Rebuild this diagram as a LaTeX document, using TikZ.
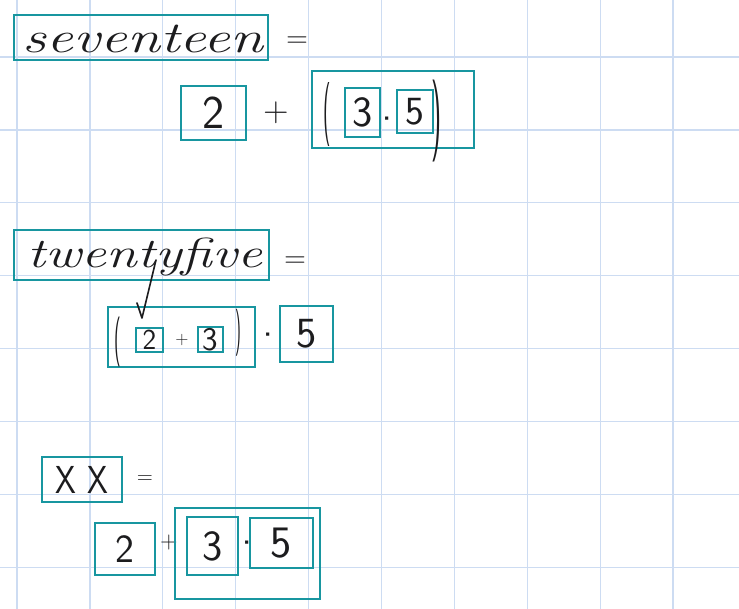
\documentclass[tikz,border=0pt]{standalone}
\usepackage{graphicx}
\definecolor{boxteal}{RGB}{24,150,160}
\definecolor{gridblue}{RGB}{205,220,242}
\definecolor{ink}{RGB}{28,28,30}
\newcommand\hwtext[2]{{\fontsize{#1}{#1}\selectfont\sffamily #2}}
\newcommand\hwword[3]{\resizebox{#1}{\height}{\fontsize{#2}{#2}\selectfont\itshape #3}}
\newcommand\hwparen[3]{\resizebox*{\width}{#1}{\fontsize{#2}{#2}\selectfont\sffamily #3}}
\begin{document}
\begin{tikzpicture}[x=1pt,y=-1pt,
  box/.style={draw=boxteal,line width=2.3pt,inner sep=0pt,text=ink},
  lbl/.style={inner sep=0pt,text=ink},
  gridline/.style={draw=gridblue,line width=1.3pt},
  pen/.style={draw=ink,line width=1.6pt,line cap=round,line join=round}]
\fill[white] (0,0) rectangle (739,609);
\useasboundingbox (0,0) rectangle (739,609);
% grid
\foreach \i in {0,...,9} \draw[gridline] ({17+72.9*\i},0) -- ({17+72.9*\i},609);
\foreach \j in {0,...,7} \draw[gridline] (0,{57+72.9*\j}) -- (739,{57+72.9*\j});

% ---- row 1
\node[box,minimum width=254pt,minimum height=45pt] (seventeen) at (141,37.5) {};
\node[lbl,anchor=base] (seventeentxt) at (143,53) {\hwword{240pt}{44pt}{seventeen}};
\node[lbl] (eq1) at (297,42) {\hwtext{30pt}{=}};
\node[box,minimum width=65pt,minimum height=54pt] (two1) at (213.5,113) {\hwtext{47pt}{2}};
\node[lbl] (plus1) at (276,113) {\hwtext{35pt}{+}};
\node[box,minimum width=162pt,minimum height=77pt] (grp1) at (393,109.5) {};
\node[lbl] (lp1) at (327,115) {\hwparen{64pt}{20pt}{(}};
\node[box,minimum width=35pt,minimum height=49pt] (three1) at (362.5,112.5) {\hwtext{43pt}{3}};
\node[lbl] (dot1) at (387,125) {\hwtext{40pt}{·}};
\node[box,minimum width=36pt,minimum height=43pt] (five1) at (415,111.5) {\hwtext{40pt}{5}};
\node[lbl] (rp1) at (437,121) {\hwparen{82pt}{28pt}{)}};

% ---- row 2
\node[box,minimum width=255pt,minimum height=50pt] (twentyfive) at (141.5,255) {};
\node[lbl,anchor=base] (twentyfivetxt) at (145,268) {\hwword{234pt}{42pt}{twentyfive}};
\node[lbl] (eq2) at (295,262) {\hwtext{30pt}{=}};
\node[box,minimum width=147pt,minimum height=60pt] (grp2) at (181.5,337) {};
\node[lbl] (lp2) at (118,342) {\hwparen{50pt}{18pt}{(}};
\node[box,minimum width=27pt,minimum height=24pt] (two2) at (149.5,340) {\hwtext{29pt}{2}};
\node[lbl] (plus2) at (182,340) {\hwtext{18pt}{+}};
\node[box,minimum width=25pt,minimum height=25pt] (three2) at (210.5,339.5) {\hwtext{33pt}{3}};
\node[lbl] (rp2) at (238,333) {\hwparen{47pt}{16pt}{)}};
\node[lbl] (dot2) at (268,341) {\hwtext{40pt}{·}};
\node[box,minimum width=53pt,minimum height=56pt] (five2) at (306.5,334) {\hwtext{43pt}{5}\hspace{16pt}};
\coordinate (ytail) at (156,260);
\coordinate (ytip) at (142,318);
\coordinate (ytick) at (137,303);
\draw[pen] (ytail) -- (ytip) -- (ytick);

% ---- row 3
\node[box,minimum width=80pt,minimum height=45pt] (xx) at (82,479.5) {\resizebox{52pt}{\height}{\hwtext{39pt}{X X}}};
\node[lbl] (eq3) at (145,480) {\hwtext{22pt}{=}};
\node[box,minimum width=60pt,minimum height=52pt] (two3) at (125,549) {\hwtext{40pt}{2}};
\node[lbl] (plus3) at (169,543) {\hwtext{24pt}{+}};
\node[box,minimum width=145pt,minimum height=91pt] (grp3) at (247.5,553.5) {};
\node[box,minimum width=51pt,minimum height=58pt] (three3) at (212.5,546) {\hwtext{43pt}{3}};
\node[lbl] (dot3) at (247,549) {\hwtext{40pt}{·}};
\node[box,minimum width=63pt,minimum height=50pt] (five3) at (281.5,543) {\hwtext{45pt}{5}\hspace{10pt}};
\end{tikzpicture}
\end{document}
